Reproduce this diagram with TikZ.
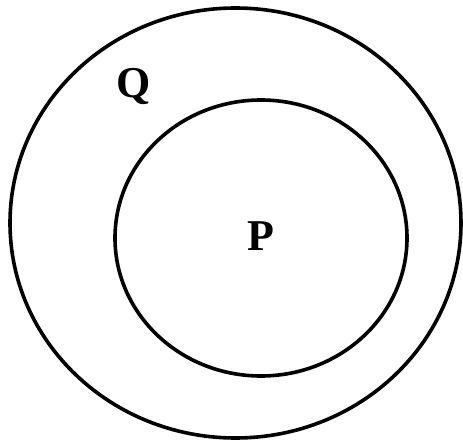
\documentclass[tikz,border=0pt]{standalone}
\usepackage{fontspec}
\setmainfont{Liberation Serif}
\begin{document}
\begin{tikzpicture}[x=1pt,y=-1pt,
  ring/.style={draw=black,line width=3.6pt},
  lbl/.style={font=\fontsize{44}{44}\selectfont\bfseries,inner sep=0pt}]
\useasboundingbox (0,0) rectangle (463,441);
\draw[ring] (235.5,223) ellipse [x radius=225.5,y radius=215];
\draw[ring] (261,238) ellipse [x radius=146,y radius=138];
\node[lbl] (q) at (134,87) {Q};
\node[lbl] (p) at (261,236) {P};
\end{tikzpicture}
\end{document}
